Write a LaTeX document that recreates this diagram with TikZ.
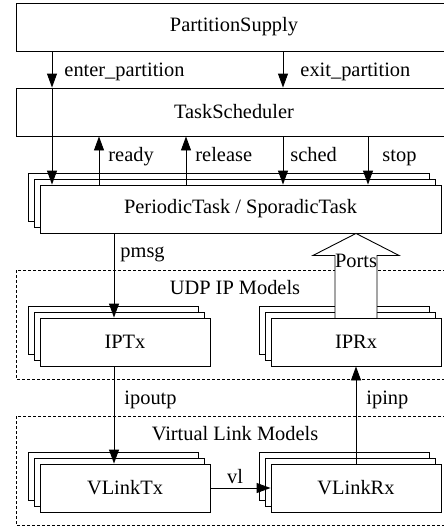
\documentclass[tikz,border=0pt]{standalone}
\usepackage{fontspec}
\setmainfont{Liberation Serif}
\usepackage{tikz}
\usetikzlibrary{arrows.meta,shadows}
\tikzstyle{block} = [draw, fill=white, rectangle, minimum height=48pt, inner sep=0pt]
\tikzstyle{stack} = [block, minimum width=170pt, double copy shadow={shadow xshift=-6pt, shadow yshift=6pt}]
\tikzstyle{group} = [draw, dash pattern=on 3pt off 2pt]
\tikzstyle{line} = [draw, -{Triangle[length=14pt,width=10pt]}]
\tikzstyle{lbl} = [anchor=base west, inner sep=0pt]

\begin{document}
\begin{tikzpicture}[x=1pt, y=-1pt, line width=0.9pt]
            \tikzstyle{every node}+=[font=\fontsize{20.4}{24}\selectfont]
                \clip (0,0) rectangle (444,527);
                % dashed groups
                \draw [group] (16,270) rectangle (452,379);
                \draw [group] (16,416) rectangle (452,525);
                \node [anchor=base] (udp) at (235,294) {UDP IP Models};
                \node [anchor=base] (vlm) at (235,440) {Virtual Link Models};
                % boxes
                \node [block, minimum width=436pt] (ps) at (234,27) {PartitionSupply};
                \node [block, minimum width=436pt] (ts) at (234,112) {TaskScheduler};
                \node [block, minimum width=401pt, double copy shadow={shadow xshift=-6pt, shadow yshift=6pt}] (task) at (240.5,209) {PeriodicTask / SporadicTask};
                \node [stack] (iptx) at (125,342) {IPTx};
                \node [stack] (iprx) at (356,342) {IPRx};
                \node [stack] (vltx) at (125,488) {VLinkTx};
                \node [stack] (vlrx) at (356,488) {VLinkRx};
                % x positions of the signals
                \coordinate (xenter) at (52,0);
                \coordinate (xready) at (99,0);
                \coordinate (xrel) at (186,0);
                \coordinate (xsched) at (283,0);
                \coordinate (xstop) at (368,0);
                \coordinate (xmsg) at (114,0);
                % signals
                \path [line] (ps.south -| xenter) -- (ts.north -| xenter);
                \path [line] (ts.north -| xenter) -- (task.north -| xenter);
                \path [line] (ps.south -| xsched) -- (ts.north -| xsched);
                \path [line] (task.north -| xready) -- (ts.south -| xready);
                \path [line] (task.north -| xrel) -- (ts.south -| xrel);
                \path [line] (ts.south -| xsched) -- (task.north -| xsched);
                \path [line] (ts.south -| xstop) -- (task.north -| xstop);
                \path [line] (task.south -| xmsg) -- (iptx.north -| xmsg);
                \path [line] (iptx.south -| xmsg) -- (vltx.north -| xmsg);
                \path [line] (vltx.east) -- (vlrx.west);
                \path [line] (vlrx.north) -- (iprx.south);
                % ports
                \draw [fill=white] (task.south -| iprx.north) -- ++(43,22) -- ++(-22,0) -- ++(0,63) -- ++(-42,0) -- ++(0,-63) -- ++(-22,0) -- cycle;
                \node [anchor=base] (ports) at (356,267) {Ports};
                % labels
                \node [lbl] (enter) at (64,76) {enter\_partition};
                \node [lbl] (exit) at (300,76) {exit\_partition};
                \node [lbl] (ready) at (108,161) {ready};
                \node [lbl] (release) at (195,161) {release};
                \node [lbl] (sched) at (290,161) {sched};
                \node [lbl] (stop) at (382,161) {stop};
                \node [lbl] (pmsg) at (120,257) {pmsg};
                \node [lbl] (ipoutp) at (124,404) {ipoutp};
                \node [lbl] (ipinp) at (366,404) {ipinp};
                \node [anchor=base] (vl) at (235,483) {vl};
            \end{tikzpicture}
\end{document}
